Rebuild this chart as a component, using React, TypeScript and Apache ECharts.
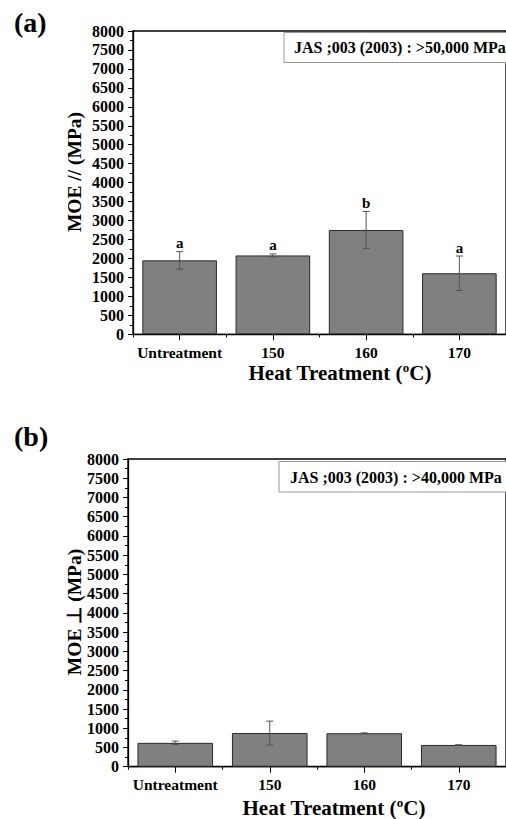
import React, { useEffect, useRef } from "react";
import * as echarts from "echarts";

const categories = ["Untreatment", "150", "160", "170"];
const moeParallel = [1950, 2080, 2750, 1610];
const moeParallelSd = [230, 40, 490, 455];
const moeParallelLetters = ["a", "a", "b", "a"];
const moePerp = [620, 875, 870, 565];
const moePerpSd = [45, 310, 10, 6];
const yTickLabels = [0, 500, 1000, 1500, 2000, 2500, 3000, 3500, 4000, 4500, 5000, 5500, 6000, 6500, 7000, 7500, 8000];
const yTitles = ["MOE // (MPa)", "MOE \u22A5 (MPa)"];
const xTitleParts = ["Heat Treatment (", "o", "C)"];
const standardA = "JAS ;003 (2003) : >50,000 MPa";
const standardB = "JAS ;003 (2003) : >40,000 MPa";

const FONT = "'Liberation Serif', serif";

function measure(text: string, font: string): number {
  const c = document.createElement("canvas").getContext("2d");
  if (!c) return text.length * 8;
  c.font = font;
  return c.measureText(text).width;
}

export default function App() {
  const ref = useRef<HTMLDivElement>(null);
  useEffect(() => {
    if (!ref.current) return;
    const chart = echarts.init(ref.current, null, { renderer: "svg" });

    const grids = [
      { left: 133, right: -5, top: 31, bottom: 819 - 334.3 },
      { left: 128, right: -4, top: 459, bottom: 819 - 766.7 },
    ];

    const makeX = (gi: number) => [
      {
        type: "category",
        gridIndex: gi,
        data: categories,
        boundaryGap: true,
        axisLine: { lineStyle: { color: "#000", width: 1.3 } },
        axisTick: { show: true, alignWithLabel: false, length: 3, lineStyle: { color: "#000" } },
        axisLabel: { show: false },
      },
      {
        type: "category",
        gridIndex: gi,
        data: categories,
        position: "bottom",
        axisLine: { show: false },
        axisTick: { show: true, alignWithLabel: true, interval: 0, length: 6, lineStyle: { color: "#000" } },
        axisLabel: { show: false },
      },
    ];

    const makeY = (gi: number) => ({
      type: "value",
      gridIndex: gi,
      min: yTickLabels[0],
      max: yTickLabels[yTickLabels.length - 1],
      interval: yTickLabels[1] - yTickLabels[0],
      splitLine: { show: false },
      axisLine: { show: true, lineStyle: { color: "#000", width: 1.3 } },
      axisTick: { show: true, length: 5, lineStyle: { color: "#000" } },
      minorTick: { show: true, splitNumber: 2, length: 3, lineStyle: { color: "#000" } },
      axisLabel: { show: false },
    });

    // tick labels drawn through the axes' own scales
    const yLabelSeries = (gi: number) => ({
      type: "custom",
      xAxisIndex: gi * 2,
      yAxisIndex: gi,
      clip: false,
      silent: true,
      data: yTickLabels.map((v) => [0, v]),
      renderItem: (params: any, api: any) => {
        const p = api.coord([0, api.value(1)]);
        return {
          type: "text",
          x: params.coordSys.x - 9,
          y: p[1],
          style: {
            text: String(api.value(1)),
            fill: "#000",
            font: `bold 16px ${FONT}`,
            textAlign: "right",
            textVerticalAlign: "middle",
          },
        };
      },
    });

    const xLabelSeries = (gi: number) => ({
      type: "custom",
      xAxisIndex: gi * 2,
      yAxisIndex: gi,
      clip: false,
      silent: true,
      data: categories.map((_, i) => [i, 0]),
      renderItem: (params: any, api: any) => {
        const p = api.coord([api.value(0), 0]);
        return {
          type: "text",
          x: p[0],
          y: p[1] + 10,
          style: {
            text: categories[params.dataIndex],
            fill: "#000",
            font: `bold 15.5px ${FONT}`,
            textAlign: "center",
            textVerticalAlign: "top",
          },
        };
      },
    });

    const errSeries = (gi: number, vals: number[], sds: number[], letters: string[] | null) => ({
      type: "custom",
      xAxisIndex: gi * 2,
      yAxisIndex: gi,
      z: 5,
      data: vals.map((v, i) => [i, v - sds[i], v + sds[i]]),
      renderItem: (params: any, api: any) => {
        const i = api.value(0);
        const lo = api.coord([i, api.value(1)]);
        const hi = api.coord([i, api.value(2)]);
        const hw = 3.5;
        const st = { stroke: "#555", lineWidth: 1 };
        const children: any[] = [
          { type: "line", shape: { x1: hi[0], y1: hi[1], x2: lo[0], y2: lo[1] }, style: st },
          { type: "line", shape: { x1: hi[0] - hw, y1: hi[1], x2: hi[0] + hw, y2: hi[1] }, style: st },
          { type: "line", shape: { x1: lo[0] - hw, y1: lo[1], x2: lo[0] + hw, y2: lo[1] }, style: st },
        ];
        const letter = letters ? letters[params.dataIndex] : "";
        if (letter) {
          children.push({
            type: "text",
            x: hi[0],
            y: hi[1] - 1,
            style: {
              text: letter,
              fill: "#000",
              font: `bold 15px ${FONT}`,
              textAlign: "center",
              textVerticalAlign: "bottom",
            },
          });
        }
        return { type: "group", children };
      },
    });

    const barSeries = (gi: number, vals: number[]) => ({
      type: "bar",
      xAxisIndex: gi * 2,
      yAxisIndex: gi,
      data: vals,
      barCategoryGap: "20%",
      itemStyle: { color: "#808080", borderColor: "#2a2a2a", borderWidth: 1 },
    });

    const titleFont = `bold 21px ${FONT}`;
    const supFont = `bold 13px ${FONT}`;
    const w0 = measure(xTitleParts[0], titleFont);
    const w1 = measure(xTitleParts[1], supFont);
    const w2 = measure(xTitleParts[2], titleFont);
    const total = w0 + w1 + w2;
    const xTitle = (cx: number, cy: number) => {
      const x0 = cx - total / 2;
      return [
        { type: "text", x: x0, y: cy, style: { text: xTitleParts[0], fill: "#000", font: titleFont, textVerticalAlign: "middle" } },
        { type: "text", x: x0 + w0, y: cy - 6, style: { text: xTitleParts[1], fill: "#000", font: supFont, textVerticalAlign: "middle" } },
        { type: "text", x: x0 + w0 + w1, y: cy, style: { text: xTitleParts[2], fill: "#000", font: titleFont, textVerticalAlign: "middle" } },
      ];
    };
    const yTitle = (text: string, cx: number, cy: number) => ({
      type: "text",
      x: cx,
      y: cy,
      rotation: Math.PI / 2,
      style: { text, fill: "#000", font: `bold 19.5px ${FONT}`, textAlign: "center", textVerticalAlign: "middle" },
    });

    chart.setOption({
      animation: false,
      grid: grids.map((g) => ({ ...g, show: true, borderColor: "#000", borderWidth: 1.3, backgroundColor: "transparent" })),
      xAxis: [...makeX(0), ...makeX(1)],
      yAxis: [makeY(0), makeY(1)],
      series: [
        barSeries(0, moeParallel),
        errSeries(0, moeParallel, moeParallelSd, moeParallelLetters),
        yLabelSeries(0),
        xLabelSeries(0),
        barSeries(1, moePerp),
        errSeries(1, moePerp, moePerpSd, null),
        yLabelSeries(1),
        xLabelSeries(1),
      ],
      graphic: [
        { type: "text", left: 14, top: 8, style: { text: "(a)", fill: "#000", font: `bold 28px ${FONT}` } },
        { type: "text", left: 14, top: 422, style: { text: "(b)", fill: "#000", font: `bold 28px ${FONT}` } },
        ...xTitle(340, 373),
        ...xTitle(334, 808),
        yTitle(yTitles[0], 74, 172),
        yTitle(yTitles[1], 74, 612),
        { type: "rect", shape: { x: 284, y: 32.5, width: 240, height: 30 }, style: { fill: "#fff", stroke: "#999", lineWidth: 1 }, z: 10 },
        { type: "text", x: 294, y: 47.5, style: { text: standardA, fill: "#000", font: `bold 16px ${FONT}`, textVerticalAlign: "middle" }, z: 11 },
        { type: "rect", shape: { x: 279, y: 461.5, width: 240, height: 30.5 }, style: { fill: "#fff", stroke: "#999", lineWidth: 1 }, z: 10 },
        { type: "text", x: 290, y: 477, style: { text: standardB, fill: "#000", font: `bold 16px ${FONT}`, textVerticalAlign: "middle" }, z: 11 },
      ],
    });
    return () => chart.dispose();
  }, []);
  return <div ref={ref} style={{ position: "absolute", left: 0, top: 0, width: 506, height: 819, background: "#fff" }} />;
}
